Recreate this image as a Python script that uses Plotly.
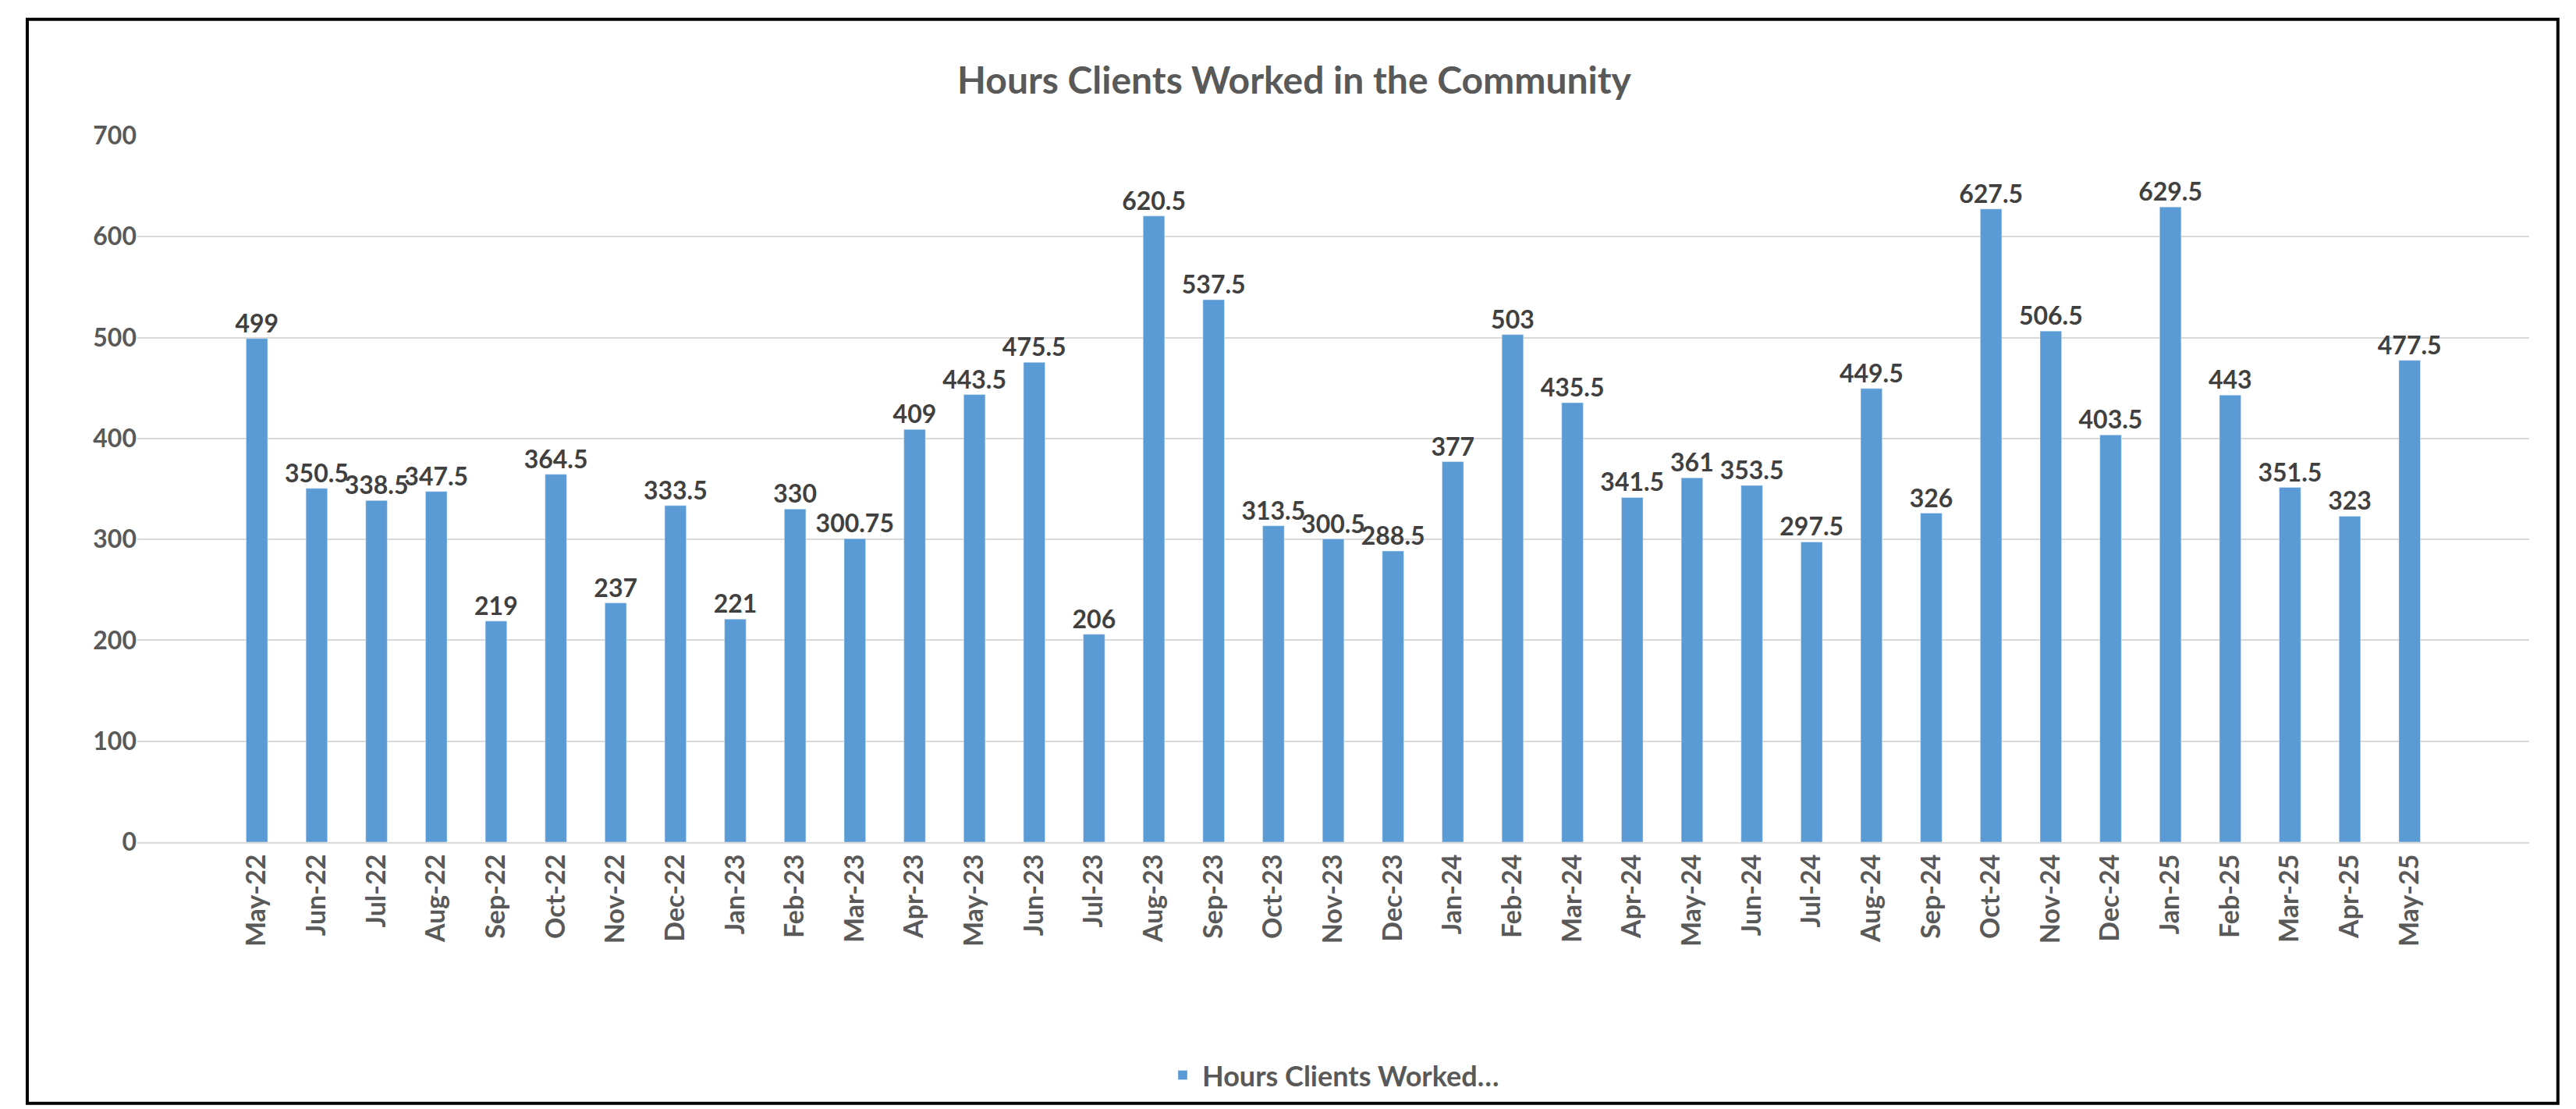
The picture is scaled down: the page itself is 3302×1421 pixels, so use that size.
import plotly.graph_objects as go

months = ["May-22","Jun-22","Jul-22","Aug-22","Sep-22","Oct-22","Nov-22","Dec-22","Jan-23","Feb-23","Mar-23","Apr-23","May-23","Jun-23","Jul-23","Aug-23","Sep-23","Oct-23","Nov-23","Dec-23","Jan-24","Feb-24","Mar-24","Apr-24","May-24","Jun-24","Jul-24","Aug-24","Sep-24","Oct-24","Nov-24","Dec-24","Jan-25","Feb-25","Mar-25","Apr-25","May-25"]
hours = [499,350.5,338.5,347.5,219,364.5,237,333.5,221,330,300.75,409,443.5,475.5,206,620.5,537.5,313.5,300.5,288.5,377,503,435.5,341.5,361,353.5,297.5,449.5,326,627.5,506.5,403.5,629.5,443,351.5,323,477.5]
labels = [f"<b>{v:g}</b>" for v in hours]
yticks = [0,100,200,300,400,500,600,700]

FONT = "Lato"
GRAY = "#595959"

fig = go.Figure()
fig.add_trace(go.Bar(
    x=months, y=hours, name="<b>Hours Clients Worked…</b>",
    marker_color="#5B9BD5", width=0.36,
))
fig.add_trace(go.Scatter(
    x=months, y=hours, mode="text", text=labels, textposition="top center",
    textfont=dict(family=FONT, size=32, color="#404040"), showlegend=False,
    cliponaxis=False, hoverinfo="skip",
))
fig.update_layout(
    width=3302, height=1421,
    paper_bgcolor="white", plot_bgcolor="white",
    margin=dict(l=168, r=68, t=166, b=350),
    title=dict(text="<b>Hours Clients Worked in the Community</b>", x=0.5, y=0.945, xanchor="center",
               font=dict(family=FONT, size=48, color=GRAY)),
    showlegend=True,
    legend=dict(orientation="h", x=0.5, xanchor="center", y=-0.33, yanchor="middle",
                font=dict(family=FONT, size=36, color=GRAY), itemwidth=40),
    font=dict(family=FONT, color=GRAY),
)
fig.update_xaxes(tickangle=-90, tickfont=dict(family=FONT, size=34, color=GRAY),
                 showline=True, linecolor="#D9D9D9", linewidth=2, ticks="",
                 tickvals=months, ticktext=[f"<b>{m}</b>" for m in months])
fig.update_yaxes(range=[0,700], tickvals=yticks, ticktext=[f"<b>{t}</b>" for t in yticks],
                 tickfont=dict(family=FONT, size=32, color=GRAY),
                 gridcolor="#D9D9D9", gridwidth=2, zeroline=False, ticks="")
fig.add_shape(type="rect", xref="paper", yref="paper", x0=-0.046, x1=1.012, y0=-0.37, y1=1.165,
              line=dict(color="black", width=4))
fig.write_html("out.html")
